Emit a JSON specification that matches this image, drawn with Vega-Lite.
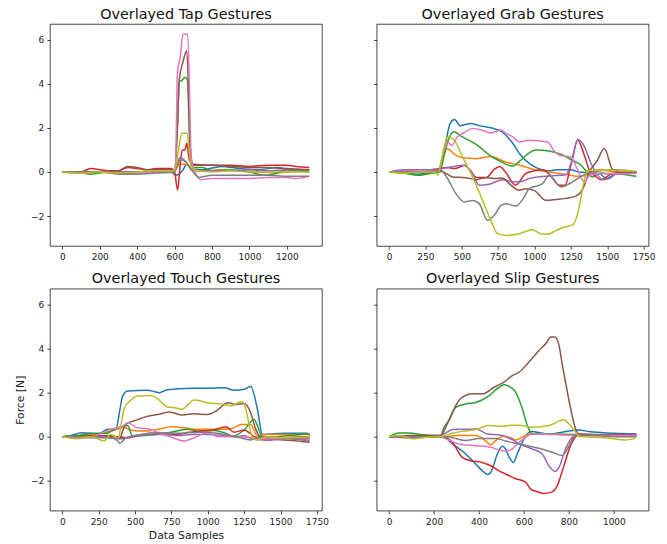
{
"$schema": "https://vega.github.io/schema/vega-lite/v6.json",
"padding": {"left": 14, "top": 6, "right": 5, "bottom": 2},
"columns": 2,
"spacing": {"row": 42.7, "column": 54.7},
"bounds": "flush",
"resolve": {"scale": {"x": "independent", "y": "independent"}},
"config": {
 "font": "DejaVu Sans",
 "view": {"stroke": "#000", "strokeWidth": 0.72},
 "axis": {"domain": false, "grid": false, "tickSize": 3.15, "tickWidth": 0.72, "tickColor": "#000", "labelFontSize": 9, "labelColor": "#222", "labelPadding": 3.15, "labelFlush": false, "labelFont": "DejaVu Sans", "format": "d", "titleFont": "DejaVu Sans", "titleFontSize": 10.8, "titleFontWeight": "normal", "titleColor": "#222"},
 "axisY": {"titlePadding": 5},
 "axisX": {"titlePadding": 3},
 "title": {"fontSize": 14.4, "fontWeight": "normal", "font": "DejaVu Sans", "offset": 2, "color": "#111"}
},
"datasets": {"d": [
{"p":"tap","s":"C0","x":0,"y":0},{"p":"tap","s":"C0","x":100,"y":0},{"p":"tap","s":"C0","x":200,"y":0},{"p":"tap","s":"C0","x":300,"y":0},{"p":"tap","s":"C0","x":400,"y":0},{"p":"tap","s":"C0","x":500,"y":0},{"p":"tap","s":"C0","x":580,"y":0},{"p":"tap","s":"C0","x":605,"y":-0.15},{"p":"tap","s":"C0","x":625,"y":-0.1},{"p":"tap","s":"C0","x":645,"y":0.1},{"p":"tap","s":"C0","x":665,"y":0.35},{"p":"tap","s":"C0","x":690,"y":0.15},{"p":"tap","s":"C0","x":750,"y":0.1},{"p":"tap","s":"C0","x":850,"y":0.25},{"p":"tap","s":"C0","x":950,"y":0.15},{"p":"tap","s":"C0","x":1050,"y":0.1},{"p":"tap","s":"C0","x":1150,"y":0.2},{"p":"tap","s":"C0","x":1250,"y":0.05},{"p":"tap","s":"C0","x":1320,"y":0.05},
{"p":"tap","s":"C1","x":0,"y":0},{"p":"tap","s":"C1","x":100,"y":0},{"p":"tap","s":"C1","x":200,"y":0},{"p":"tap","s":"C1","x":300,"y":0},{"p":"tap","s":"C1","x":400,"y":0},{"p":"tap","s":"C1","x":500,"y":0},{"p":"tap","s":"C1","x":600,"y":0.05},{"p":"tap","s":"C1","x":620,"y":0.3},{"p":"tap","s":"C1","x":630,"y":0.35},{"p":"tap","s":"C1","x":670,"y":0.35},{"p":"tap","s":"C1","x":690,"y":0.1},{"p":"tap","s":"C1","x":750,"y":0.05},{"p":"tap","s":"C1","x":850,"y":0.1},{"p":"tap","s":"C1","x":950,"y":0.05},{"p":"tap","s":"C1","x":1050,"y":0},{"p":"tap","s":"C1","x":1150,"y":-0.05},{"p":"tap","s":"C1","x":1250,"y":0.05},{"p":"tap","s":"C1","x":1320,"y":0.05},
{"p":"tap","s":"C2","x":0,"y":0},{"p":"tap","s":"C2","x":50,"y":0},{"p":"tap","s":"C2","x":150,"y":-0.1},{"p":"tap","s":"C2","x":250,"y":0},{"p":"tap","s":"C2","x":350,"y":-0.05},{"p":"tap","s":"C2","x":450,"y":0},{"p":"tap","s":"C2","x":550,"y":0},{"p":"tap","s":"C2","x":600,"y":0},{"p":"tap","s":"C2","x":615,"y":2},{"p":"tap","s":"C2","x":625,"y":4.1},{"p":"tap","s":"C2","x":640,"y":4.15},{"p":"tap","s":"C2","x":655,"y":4.3},{"p":"tap","s":"C2","x":668,"y":4.2},{"p":"tap","s":"C2","x":685,"y":0.5},{"p":"tap","s":"C2","x":700,"y":0.2},{"p":"tap","s":"C2","x":750,"y":0.2},{"p":"tap","s":"C2","x":800,"y":0.05},{"p":"tap","s":"C2","x":900,"y":0.1},{"p":"tap","s":"C2","x":1000,"y":0},{"p":"tap","s":"C2","x":1080,"y":-0.15},{"p":"tap","s":"C2","x":1150,"y":-0.05},{"p":"tap","s":"C2","x":1200,"y":0.1},{"p":"tap","s":"C2","x":1320,"y":0},
{"p":"tap","s":"C3","x":0,"y":0},{"p":"tap","s":"C3","x":100,"y":0},{"p":"tap","s":"C3","x":150,"y":0.15},{"p":"tap","s":"C3","x":250,"y":0.05},{"p":"tap","s":"C3","x":300,"y":0.05},{"p":"tap","s":"C3","x":350,"y":0.2},{"p":"tap","s":"C3","x":400,"y":0.15},{"p":"tap","s":"C3","x":450,"y":0.1},{"p":"tap","s":"C3","x":500,"y":0.15},{"p":"tap","s":"C3","x":580,"y":0.15},{"p":"tap","s":"C3","x":600,"y":0},{"p":"tap","s":"C3","x":616,"y":-0.83},{"p":"tap","s":"C3","x":630,"y":0.3},{"p":"tap","s":"C3","x":640,"y":1.0},{"p":"tap","s":"C3","x":655,"y":1.0},{"p":"tap","s":"C3","x":665,"y":1.3},{"p":"tap","s":"C3","x":680,"y":0.5},{"p":"tap","s":"C3","x":700,"y":0.35},{"p":"tap","s":"C3","x":800,"y":0.3},{"p":"tap","s":"C3","x":900,"y":0.3},{"p":"tap","s":"C3","x":1000,"y":0.25},{"p":"tap","s":"C3","x":1100,"y":0.3},{"p":"tap","s":"C3","x":1200,"y":0.3},{"p":"tap","s":"C3","x":1250,"y":0.25},{"p":"tap","s":"C3","x":1320,"y":0.2},
{"p":"tap","s":"C4","x":0,"y":0},{"p":"tap","s":"C4","x":100,"y":-0.05},{"p":"tap","s":"C4","x":200,"y":0},{"p":"tap","s":"C4","x":300,"y":0},{"p":"tap","s":"C4","x":400,"y":0},{"p":"tap","s":"C4","x":500,"y":0},{"p":"tap","s":"C4","x":600,"y":0},{"p":"tap","s":"C4","x":615,"y":0.4},{"p":"tap","s":"C4","x":630,"y":0.65},{"p":"tap","s":"C4","x":650,"y":0.55},{"p":"tap","s":"C4","x":670,"y":0.35},{"p":"tap","s":"C4","x":690,"y":0.1},{"p":"tap","s":"C4","x":750,"y":0.05},{"p":"tap","s":"C4","x":900,"y":0.05},{"p":"tap","s":"C4","x":1000,"y":0.1},{"p":"tap","s":"C4","x":1100,"y":0.05},{"p":"tap","s":"C4","x":1200,"y":0.1},{"p":"tap","s":"C4","x":1320,"y":0.1},
{"p":"tap","s":"C5","x":0,"y":0},{"p":"tap","s":"C5","x":100,"y":0},{"p":"tap","s":"C5","x":200,"y":0},{"p":"tap","s":"C5","x":300,"y":0.05},{"p":"tap","s":"C5","x":350,"y":0.25},{"p":"tap","s":"C5","x":400,"y":0.2},{"p":"tap","s":"C5","x":450,"y":0.1},{"p":"tap","s":"C5","x":550,"y":0.1},{"p":"tap","s":"C5","x":600,"y":0.1},{"p":"tap","s":"C5","x":615,"y":2},{"p":"tap","s":"C5","x":625,"y":4.2},{"p":"tap","s":"C5","x":645,"y":5},{"p":"tap","s":"C5","x":665,"y":5.5},{"p":"tap","s":"C5","x":685,"y":1},{"p":"tap","s":"C5","x":700,"y":0.3},{"p":"tap","s":"C5","x":800,"y":0.3},{"p":"tap","s":"C5","x":900,"y":0.25},{"p":"tap","s":"C5","x":1000,"y":0.2},{"p":"tap","s":"C5","x":1100,"y":0.2},{"p":"tap","s":"C5","x":1200,"y":0.15},{"p":"tap","s":"C5","x":1320,"y":0.1},
{"p":"tap","s":"C6","x":0,"y":0},{"p":"tap","s":"C6","x":100,"y":-0.05},{"p":"tap","s":"C6","x":200,"y":0},{"p":"tap","s":"C6","x":300,"y":-0.05},{"p":"tap","s":"C6","x":400,"y":-0.05},{"p":"tap","s":"C6","x":500,"y":0},{"p":"tap","s":"C6","x":590,"y":0.05},{"p":"tap","s":"C6","x":605,"y":0.3},{"p":"tap","s":"C6","x":615,"y":4.5},{"p":"tap","s":"C6","x":630,"y":5.2},{"p":"tap","s":"C6","x":645,"y":6.25},{"p":"tap","s":"C6","x":670,"y":6.25},{"p":"tap","s":"C6","x":690,"y":0.5},{"p":"tap","s":"C6","x":710,"y":0},{"p":"tap","s":"C6","x":740,"y":-0.35},{"p":"tap","s":"C6","x":800,"y":-0.3},{"p":"tap","s":"C6","x":900,"y":-0.3},{"p":"tap","s":"C6","x":1000,"y":-0.3},{"p":"tap","s":"C6","x":1100,"y":-0.25},{"p":"tap","s":"C6","x":1200,"y":-0.25},{"p":"tap","s":"C6","x":1250,"y":-0.3},{"p":"tap","s":"C6","x":1320,"y":-0.2},
{"p":"tap","s":"C7","x":0,"y":0},{"p":"tap","s":"C7","x":100,"y":0},{"p":"tap","s":"C7","x":200,"y":0},{"p":"tap","s":"C7","x":300,"y":-0.1},{"p":"tap","s":"C7","x":400,"y":-0.1},{"p":"tap","s":"C7","x":500,"y":-0.05},{"p":"tap","s":"C7","x":600,"y":0},{"p":"tap","s":"C7","x":615,"y":0.3},{"p":"tap","s":"C7","x":630,"y":0.55},{"p":"tap","s":"C7","x":660,"y":0.45},{"p":"tap","s":"C7","x":690,"y":0.1},{"p":"tap","s":"C7","x":730,"y":-0.25},{"p":"tap","s":"C7","x":800,"y":-0.15},{"p":"tap","s":"C7","x":900,"y":-0.15},{"p":"tap","s":"C7","x":1000,"y":-0.15},{"p":"tap","s":"C7","x":1100,"y":-0.15},{"p":"tap","s":"C7","x":1200,"y":-0.2},{"p":"tap","s":"C7","x":1320,"y":-0.2},
{"p":"tap","s":"C8","x":0,"y":0},{"p":"tap","s":"C8","x":100,"y":-0.05},{"p":"tap","s":"C8","x":200,"y":0},{"p":"tap","s":"C8","x":300,"y":-0.05},{"p":"tap","s":"C8","x":400,"y":0},{"p":"tap","s":"C8","x":500,"y":0.05},{"p":"tap","s":"C8","x":600,"y":0.05},{"p":"tap","s":"C8","x":612,"y":0.5},{"p":"tap","s":"C8","x":625,"y":1.2},{"p":"tap","s":"C8","x":640,"y":1.75},{"p":"tap","s":"C8","x":665,"y":1.75},{"p":"tap","s":"C8","x":690,"y":0.2},{"p":"tap","s":"C8","x":720,"y":0.05},{"p":"tap","s":"C8","x":800,"y":0},{"p":"tap","s":"C8","x":900,"y":0.05},{"p":"tap","s":"C8","x":1000,"y":0},{"p":"tap","s":"C8","x":1100,"y":0},{"p":"tap","s":"C8","x":1200,"y":0},{"p":"tap","s":"C8","x":1320,"y":0},

{"p":"grab","s":"C0","x":0,"y":0},{"p":"grab","s":"C0","x":100,"y":-0.05},{"p":"grab","s":"C0","x":200,"y":-0.1},{"p":"grab","s":"C0","x":300,"y":0},{"p":"grab","s":"C0","x":340,"y":0.05},{"p":"grab","s":"C0","x":380,"y":1.0},{"p":"grab","s":"C0","x":420,"y":2.2},{"p":"grab","s":"C0","x":450,"y":2.38},{"p":"grab","s":"C0","x":490,"y":2.1},{"p":"grab","s":"C0","x":560,"y":2.2},{"p":"grab","s":"C0","x":620,"y":2.1},{"p":"grab","s":"C0","x":700,"y":2.0},{"p":"grab","s":"C0","x":780,"y":1.8},{"p":"grab","s":"C0","x":850,"y":1.3},{"p":"grab","s":"C0","x":900,"y":0.8},{"p":"grab","s":"C0","x":970,"y":0.35},{"p":"grab","s":"C0","x":1050,"y":0.1},{"p":"grab","s":"C0","x":1100,"y":0.05},{"p":"grab","s":"C0","x":1150,"y":0.1},{"p":"grab","s":"C0","x":1250,"y":0.1},{"p":"grab","s":"C0","x":1300,"y":0},{"p":"grab","s":"C0","x":1400,"y":-0.05},{"p":"grab","s":"C0","x":1450,"y":-0.1},{"p":"grab","s":"C0","x":1495,"y":-0.3},{"p":"grab","s":"C0","x":1550,"y":-0.1},{"p":"grab","s":"C0","x":1600,"y":0},{"p":"grab","s":"C0","x":1700,"y":0},
{"p":"grab","s":"C1","x":0,"y":0},{"p":"grab","s":"C1","x":200,"y":0},{"p":"grab","s":"C1","x":330,"y":0},{"p":"grab","s":"C1","x":360,"y":0.4},{"p":"grab","s":"C1","x":400,"y":1.05},{"p":"grab","s":"C1","x":450,"y":0.8},{"p":"grab","s":"C1","x":500,"y":0.65},{"p":"grab","s":"C1","x":600,"y":0.6},{"p":"grab","s":"C1","x":700,"y":0.7},{"p":"grab","s":"C1","x":800,"y":0.45},{"p":"grab","s":"C1","x":900,"y":0.3},{"p":"grab","s":"C1","x":1000,"y":0.1},{"p":"grab","s":"C1","x":1100,"y":0},{"p":"grab","s":"C1","x":1200,"y":-0.1},{"p":"grab","s":"C1","x":1300,"y":-0.2},{"p":"grab","s":"C1","x":1350,"y":-0.15},{"p":"grab","s":"C1","x":1400,"y":0.05},{"p":"grab","s":"C1","x":1450,"y":0.1},{"p":"grab","s":"C1","x":1550,"y":0},{"p":"grab","s":"C1","x":1700,"y":0},
{"p":"grab","s":"C2","x":0,"y":0},{"p":"grab","s":"C2","x":100,"y":-0.05},{"p":"grab","s":"C2","x":200,"y":-0.15},{"p":"grab","s":"C2","x":300,"y":-0.05},{"p":"grab","s":"C2","x":350,"y":0},{"p":"grab","s":"C2","x":380,"y":0.8},{"p":"grab","s":"C2","x":410,"y":1.5},{"p":"grab","s":"C2","x":445,"y":1.82},{"p":"grab","s":"C2","x":500,"y":1.6},{"p":"grab","s":"C2","x":570,"y":1.36},{"p":"grab","s":"C2","x":620,"y":1.15},{"p":"grab","s":"C2","x":690,"y":0.76},{"p":"grab","s":"C2","x":760,"y":0.5},{"p":"grab","s":"C2","x":850,"y":0.26},{"p":"grab","s":"C2","x":900,"y":0.5},{"p":"grab","s":"C2","x":950,"y":0.8},{"p":"grab","s":"C2","x":1010,"y":0.99},{"p":"grab","s":"C2","x":1100,"y":0.95},{"p":"grab","s":"C2","x":1180,"y":0.8},{"p":"grab","s":"C2","x":1260,"y":0.53},{"p":"grab","s":"C2","x":1320,"y":0.3},{"p":"grab","s":"C2","x":1360,"y":0},{"p":"grab","s":"C2","x":1400,"y":-0.23},{"p":"grab","s":"C2","x":1450,"y":-0.05},{"p":"grab","s":"C2","x":1500,"y":-0.07},{"p":"grab","s":"C2","x":1600,"y":-0.1},{"p":"grab","s":"C2","x":1700,"y":-0.2},
{"p":"grab","s":"C3","x":0,"y":0},{"p":"grab","s":"C3","x":200,"y":0.05},{"p":"grab","s":"C3","x":340,"y":0.15},{"p":"grab","s":"C3","x":400,"y":0.2},{"p":"grab","s":"C3","x":450,"y":0.15},{"p":"grab","s":"C3","x":520,"y":0.3},{"p":"grab","s":"C3","x":560,"y":0.05},{"p":"grab","s":"C3","x":600,"y":-0.25},{"p":"grab","s":"C3","x":670,"y":-0.25},{"p":"grab","s":"C3","x":720,"y":0.1},{"p":"grab","s":"C3","x":760,"y":0.25},{"p":"grab","s":"C3","x":800,"y":0},{"p":"grab","s":"C3","x":870,"y":-0.6},{"p":"grab","s":"C3","x":940,"y":-0.07},{"p":"grab","s":"C3","x":1000,"y":0.05},{"p":"grab","s":"C3","x":1055,"y":0.1},{"p":"grab","s":"C3","x":1100,"y":-0.1},{"p":"grab","s":"C3","x":1170,"y":-0.6},{"p":"grab","s":"C3","x":1210,"y":-0.6},{"p":"grab","s":"C3","x":1250,"y":0.3},{"p":"grab","s":"C3","x":1297,"y":1.45},{"p":"grab","s":"C3","x":1340,"y":0.8},{"p":"grab","s":"C3","x":1377,"y":0.08},{"p":"grab","s":"C3","x":1420,"y":-0.2},{"p":"grab","s":"C3","x":1457,"y":-0.35},{"p":"grab","s":"C3","x":1537,"y":-0.07},{"p":"grab","s":"C3","x":1600,"y":-0.05},{"p":"grab","s":"C3","x":1700,"y":-0.05},
{"p":"grab","s":"C4","x":0,"y":0},{"p":"grab","s":"C4","x":100,"y":0.1},{"p":"grab","s":"C4","x":200,"y":0.1},{"p":"grab","s":"C4","x":340,"y":0.1},{"p":"grab","s":"C4","x":367,"y":0.15},{"p":"grab","s":"C4","x":450,"y":0.25},{"p":"grab","s":"C4","x":516,"y":0.3},{"p":"grab","s":"C4","x":574,"y":-0.08},{"p":"grab","s":"C4","x":620,"y":-0.6},{"p":"grab","s":"C4","x":688,"y":-0.56},{"p":"grab","s":"C4","x":780,"y":-0.35},{"p":"grab","s":"C4","x":860,"y":-0.45},{"p":"grab","s":"C4","x":900,"y":-0.45},{"p":"grab","s":"C4","x":963,"y":-0.3},{"p":"grab","s":"C4","x":1101,"y":-0.18},{"p":"grab","s":"C4","x":1216,"y":-0.13},{"p":"grab","s":"C4","x":1260,"y":0.6},{"p":"grab","s":"C4","x":1297,"y":1.47},{"p":"grab","s":"C4","x":1330,"y":1.3},{"p":"grab","s":"C4","x":1400,"y":0.23},{"p":"grab","s":"C4","x":1469,"y":-0.35},{"p":"grab","s":"C4","x":1514,"y":-0.3},{"p":"grab","s":"C4","x":1560,"y":-0.1},{"p":"grab","s":"C4","x":1700,"y":-0.05},
{"p":"grab","s":"C5","x":0,"y":0},{"p":"grab","s":"C5","x":200,"y":0.05},{"p":"grab","s":"C5","x":340,"y":0.05},{"p":"grab","s":"C5","x":400,"y":-0.1},{"p":"grab","s":"C5","x":436,"y":-0.23},{"p":"grab","s":"C5","x":528,"y":-0.26},{"p":"grab","s":"C5","x":597,"y":-0.35},{"p":"grab","s":"C5","x":666,"y":-0.26},{"p":"grab","s":"C5","x":720,"y":-0.3},{"p":"grab","s":"C5","x":780,"y":-0.27},{"p":"grab","s":"C5","x":826,"y":-0.53},{"p":"grab","s":"C5","x":895,"y":-0.83},{"p":"grab","s":"C5","x":941,"y":-0.76},{"p":"grab","s":"C5","x":1000,"y":-0.85},{"p":"grab","s":"C5","x":1078,"y":-1.29},{"p":"grab","s":"C5","x":1150,"y":-1.25},{"p":"grab","s":"C5","x":1216,"y":-1.2},{"p":"grab","s":"C5","x":1285,"y":-1.1},{"p":"grab","s":"C5","x":1330,"y":-0.8},{"p":"grab","s":"C5","x":1377,"y":0},{"p":"grab","s":"C5","x":1430,"y":0.5},{"p":"grab","s":"C5","x":1480,"y":1.06},{"p":"grab","s":"C5","x":1537,"y":0.1},{"p":"grab","s":"C5","x":1600,"y":-0.05},{"p":"grab","s":"C5","x":1700,"y":0},
{"p":"grab","s":"C6","x":0,"y":0},{"p":"grab","s":"C6","x":200,"y":0.05},{"p":"grab","s":"C6","x":340,"y":0.05},{"p":"grab","s":"C6","x":370,"y":0.8},{"p":"grab","s":"C6","x":402,"y":1.35},{"p":"grab","s":"C6","x":430,"y":1.2},{"p":"grab","s":"C6","x":471,"y":1.6},{"p":"grab","s":"C6","x":520,"y":1.8},{"p":"grab","s":"C6","x":574,"y":1.97},{"p":"grab","s":"C6","x":642,"y":1.89},{"p":"grab","s":"C6","x":700,"y":1.77},{"p":"grab","s":"C6","x":769,"y":1.9},{"p":"grab","s":"C6","x":803,"y":1.75},{"p":"grab","s":"C6","x":849,"y":1.6},{"p":"grab","s":"C6","x":895,"y":1.36},{"p":"grab","s":"C6","x":963,"y":1.44},{"p":"grab","s":"C6","x":1090,"y":1.36},{"p":"grab","s":"C6","x":1130,"y":1.0},{"p":"grab","s":"C6","x":1170,"y":0.76},{"p":"grab","s":"C6","x":1250,"y":0.68},{"p":"grab","s":"C6","x":1297,"y":0.08},{"p":"grab","s":"C6","x":1342,"y":-0.45},{"p":"grab","s":"C6","x":1388,"y":-0.1},{"p":"grab","s":"C6","x":1491,"y":-0.08},{"p":"grab","s":"C6","x":1700,"y":-0.07},
{"p":"grab","s":"C7","x":0,"y":0},{"p":"grab","s":"C7","x":200,"y":0},{"p":"grab","s":"C7","x":340,"y":0.05},{"p":"grab","s":"C7","x":356,"y":0.08},{"p":"grab","s":"C7","x":402,"y":-0.3},{"p":"grab","s":"C7","x":459,"y":-0.98},{"p":"grab","s":"C7","x":516,"y":-1.36},{"p":"grab","s":"C7","x":574,"y":-1.3},{"p":"grab","s":"C7","x":620,"y":-1.44},{"p":"grab","s":"C7","x":677,"y":-2.2},{"p":"grab","s":"C7","x":723,"y":-1.97},{"p":"grab","s":"C7","x":769,"y":-1.52},{"p":"grab","s":"C7","x":803,"y":-1.44},{"p":"grab","s":"C7","x":871,"y":-1.55},{"p":"grab","s":"C7","x":929,"y":-1.14},{"p":"grab","s":"C7","x":963,"y":-0.76},{"p":"grab","s":"C7","x":1055,"y":-0.53},{"p":"grab","s":"C7","x":1101,"y":-0.15},{"p":"grab","s":"C7","x":1181,"y":-0.68},{"p":"grab","s":"C7","x":1262,"y":-0.45},{"p":"grab","s":"C7","x":1354,"y":-0.08},{"p":"grab","s":"C7","x":1450,"y":0.05},{"p":"grab","s":"C7","x":1560,"y":0.1},{"p":"grab","s":"C7","x":1700,"y":0},
{"p":"grab","s":"C8","x":0,"y":0},{"p":"grab","s":"C8","x":100,"y":-0.05},{"p":"grab","s":"C8","x":200,"y":0},{"p":"grab","s":"C8","x":320,"y":0},{"p":"grab","s":"C8","x":333,"y":-0.15},{"p":"grab","s":"C8","x":379,"y":1.14},{"p":"grab","s":"C8","x":402,"y":1.59},{"p":"grab","s":"C8","x":448,"y":1.44},{"p":"grab","s":"C8","x":505,"y":0.68},{"p":"grab","s":"C8","x":574,"y":-0.23},{"p":"grab","s":"C8","x":643,"y":-1.29},{"p":"grab","s":"C8","x":700,"y":-2.2},{"p":"grab","s":"C8","x":746,"y":-2.8},{"p":"grab","s":"C8","x":803,"y":-2.88},{"p":"grab","s":"C8","x":895,"y":-2.8},{"p":"grab","s":"C8","x":987,"y":-2.62},{"p":"grab","s":"C8","x":1040,"y":-2.8},{"p":"grab","s":"C8","x":1090,"y":-2.83},{"p":"grab","s":"C8","x":1150,"y":-2.65},{"p":"grab","s":"C8","x":1204,"y":-2.5},{"p":"grab","s":"C8","x":1262,"y":-2.4},{"p":"grab","s":"C8","x":1297,"y":-1.89},{"p":"grab","s":"C8","x":1342,"y":-0.38},{"p":"grab","s":"C8","x":1365,"y":0.08},{"p":"grab","s":"C8","x":1491,"y":0.08},{"p":"grab","s":"C8","x":1700,"y":0.03},

{"p":"touch","s":"C0","x":0,"y":0},{"p":"touch","s":"C0","x":60,"y":0.05},{"p":"touch","s":"C0","x":128,"y":0.18},{"p":"touch","s":"C0","x":200,"y":0.15},{"p":"touch","s":"C0","x":242,"y":0.1},{"p":"touch","s":"C0","x":311,"y":0.33},{"p":"touch","s":"C0","x":369,"y":0.35},{"p":"touch","s":"C0","x":395,"y":1.2},{"p":"touch","s":"C0","x":414,"y":1.84},{"p":"touch","s":"C0","x":449,"y":2.07},{"p":"touch","s":"C0","x":586,"y":2.1},{"p":"touch","s":"C0","x":630,"y":2.05},{"p":"touch","s":"C0","x":666,"y":1.99},{"p":"touch","s":"C0","x":723,"y":2.13},{"p":"touch","s":"C0","x":883,"y":2.2},{"p":"touch","s":"C0","x":1000,"y":2.2},{"p":"touch","s":"C0","x":1112,"y":2.22},{"p":"touch","s":"C0","x":1181,"y":2.1},{"p":"touch","s":"C0","x":1250,"y":2.15},{"p":"touch","s":"C0","x":1295,"y":2.27},{"p":"touch","s":"C0","x":1341,"y":1.24},{"p":"touch","s":"C0","x":1375,"y":0.1},{"p":"touch","s":"C0","x":1524,"y":0.15},{"p":"touch","s":"C0","x":1684,"y":0.15},{"p":"touch","s":"C0","x":1700,"y":0.05},
{"p":"touch","s":"C1","x":0,"y":0},{"p":"touch","s":"C1","x":100,"y":0.05},{"p":"touch","s":"C1","x":200,"y":0.1},{"p":"touch","s":"C1","x":300,"y":0.2},{"p":"touch","s":"C1","x":360,"y":0.3},{"p":"touch","s":"C1","x":426,"y":0.4},{"p":"touch","s":"C1","x":470,"y":0.3},{"p":"touch","s":"C1","x":517,"y":0.25},{"p":"touch","s":"C1","x":580,"y":0.25},{"p":"touch","s":"C1","x":655,"y":0.33},{"p":"touch","s":"C1","x":746,"y":0.45},{"p":"touch","s":"C1","x":837,"y":0.4},{"p":"touch","s":"C1","x":929,"y":0.33},{"p":"touch","s":"C1","x":1066,"y":0.33},{"p":"touch","s":"C1","x":1150,"y":0.35},{"p":"touch","s":"C1","x":1204,"y":0.48},{"p":"touch","s":"C1","x":1227,"y":0.55},{"p":"touch","s":"C1","x":1295,"y":0.55},{"p":"touch","s":"C1","x":1341,"y":0.02},{"p":"touch","s":"C1","x":1400,"y":0.1},{"p":"touch","s":"C1","x":1524,"y":0.1},{"p":"touch","s":"C1","x":1700,"y":0.1},
{"p":"touch","s":"C2","x":0,"y":0},{"p":"touch","s":"C2","x":100,"y":0.05},{"p":"touch","s":"C2","x":220,"y":0.15},{"p":"touch","s":"C2","x":300,"y":0.15},{"p":"touch","s":"C2","x":381,"y":0.4},{"p":"touch","s":"C2","x":449,"y":0.51},{"p":"touch","s":"C2","x":483,"y":0.02},{"p":"touch","s":"C2","x":609,"y":0.07},{"p":"touch","s":"C2","x":746,"y":0.2},{"p":"touch","s":"C2","x":860,"y":0.33},{"p":"touch","s":"C2","x":952,"y":0.25},{"p":"touch","s":"C2","x":1043,"y":0.28},{"p":"touch","s":"C2","x":1112,"y":0.18},{"p":"touch","s":"C2","x":1170,"y":0.02},{"p":"touch","s":"C2","x":1250,"y":0.3},{"p":"touch","s":"C2","x":1318,"y":0.78},{"p":"touch","s":"C2","x":1352,"y":0.3},{"p":"touch","s":"C2","x":1375,"y":-0.05},{"p":"touch","s":"C2","x":1524,"y":0.03},{"p":"touch","s":"C2","x":1700,"y":0.13},
{"p":"touch","s":"C3","x":0,"y":0},{"p":"touch","s":"C3","x":100,"y":-0.05},{"p":"touch","s":"C3","x":200,"y":0},{"p":"touch","s":"C3","x":300,"y":0},{"p":"touch","s":"C3","x":380,"y":0},{"p":"touch","s":"C3","x":450,"y":-0.05},{"p":"touch","s":"C3","x":520,"y":0.05},{"p":"touch","s":"C3","x":609,"y":0.15},{"p":"touch","s":"C3","x":700,"y":0.1},{"p":"touch","s":"C3","x":792,"y":0.1},{"p":"touch","s":"C3","x":870,"y":0.2},{"p":"touch","s":"C3","x":952,"y":0.25},{"p":"touch","s":"C3","x":1040,"y":0.3},{"p":"touch","s":"C3","x":1089,"y":0.4},{"p":"touch","s":"C3","x":1124,"y":0.45},{"p":"touch","s":"C3","x":1181,"y":0.2},{"p":"touch","s":"C3","x":1250,"y":0.3},{"p":"touch","s":"C3","x":1318,"y":0},{"p":"touch","s":"C3","x":1410,"y":-0.15},{"p":"touch","s":"C3","x":1524,"y":-0.05},{"p":"touch","s":"C3","x":1684,"y":0},{"p":"touch","s":"C3","x":1700,"y":-0.05},
{"p":"touch","s":"C4","x":0,"y":0},{"p":"touch","s":"C4","x":100,"y":-0.05},{"p":"touch","s":"C4","x":300,"y":-0.05},{"p":"touch","s":"C4","x":400,"y":-0.1},{"p":"touch","s":"C4","x":500,"y":0},{"p":"touch","s":"C4","x":600,"y":0.1},{"p":"touch","s":"C4","x":700,"y":0.1},{"p":"touch","s":"C4","x":800,"y":0.05},{"p":"touch","s":"C4","x":900,"y":0.1},{"p":"touch","s":"C4","x":1000,"y":0.1},{"p":"touch","s":"C4","x":1100,"y":0.05},{"p":"touch","s":"C4","x":1200,"y":0},{"p":"touch","s":"C4","x":1250,"y":0.05},{"p":"touch","s":"C4","x":1300,"y":-0.1},{"p":"touch","s":"C4","x":1400,"y":-0.15},{"p":"touch","s":"C4","x":1550,"y":-0.1},{"p":"touch","s":"C4","x":1700,"y":-0.1},
{"p":"touch","s":"C5","x":0,"y":0},{"p":"touch","s":"C5","x":100,"y":0},{"p":"touch","s":"C5","x":200,"y":0.05},{"p":"touch","s":"C5","x":300,"y":0.05},{"p":"touch","s":"C5","x":370,"y":0},{"p":"touch","s":"C5","x":395,"y":-0.1},{"p":"touch","s":"C5","x":414,"y":0.25},{"p":"touch","s":"C5","x":437,"y":0.56},{"p":"touch","s":"C5","x":517,"y":0.77},{"p":"touch","s":"C5","x":586,"y":0.92},{"p":"touch","s":"C5","x":655,"y":1.0},{"p":"touch","s":"C5","x":735,"y":1.12},{"p":"touch","s":"C5","x":826,"y":0.98},{"p":"touch","s":"C5","x":906,"y":1.04},{"p":"touch","s":"C5","x":998,"y":1.0},{"p":"touch","s":"C5","x":1066,"y":1.2},{"p":"touch","s":"C5","x":1135,"y":1.54},{"p":"touch","s":"C5","x":1192,"y":1.46},{"p":"touch","s":"C5","x":1250,"y":1.5},{"p":"touch","s":"C5","x":1295,"y":1.08},{"p":"touch","s":"C5","x":1330,"y":0.33},{"p":"touch","s":"C5","x":1364,"y":-0.05},{"p":"touch","s":"C5","x":1524,"y":-0.15},{"p":"touch","s":"C5","x":1661,"y":-0.23},{"p":"touch","s":"C5","x":1700,"y":-0.26},
{"p":"touch","s":"C6","x":0,"y":0},{"p":"touch","s":"C6","x":100,"y":-0.05},{"p":"touch","s":"C6","x":200,"y":0},{"p":"touch","s":"C6","x":250,"y":0.1},{"p":"touch","s":"C6","x":330,"y":0.33},{"p":"touch","s":"C6","x":414,"y":0.48},{"p":"touch","s":"C6","x":449,"y":0.63},{"p":"touch","s":"C6","x":517,"y":0.4},{"p":"touch","s":"C6","x":586,"y":0.36},{"p":"touch","s":"C6","x":655,"y":0.2},{"p":"touch","s":"C6","x":746,"y":-0.02},{"p":"touch","s":"C6","x":837,"y":-0.2},{"p":"touch","s":"C6","x":906,"y":-0.05},{"p":"touch","s":"C6","x":998,"y":0.18},{"p":"touch","s":"C6","x":1066,"y":0},{"p":"touch","s":"C6","x":1200,"y":0},{"p":"touch","s":"C6","x":1300,"y":-0.05},{"p":"touch","s":"C6","x":1400,"y":-0.1},{"p":"touch","s":"C6","x":1524,"y":-0.1},{"p":"touch","s":"C6","x":1700,"y":-0.15},
{"p":"touch","s":"C7","x":0,"y":0},{"p":"touch","s":"C7","x":100,"y":0},{"p":"touch","s":"C7","x":250,"y":0},{"p":"touch","s":"C7","x":340,"y":-0.05},{"p":"touch","s":"C7","x":381,"y":-0.2},{"p":"touch","s":"C7","x":395,"y":-0.3},{"p":"touch","s":"C7","x":437,"y":-0.05},{"p":"touch","s":"C7","x":540,"y":0.1},{"p":"touch","s":"C7","x":655,"y":0.18},{"p":"touch","s":"C7","x":792,"y":0.15},{"p":"touch","s":"C7","x":952,"y":0.2},{"p":"touch","s":"C7","x":1066,"y":0.15},{"p":"touch","s":"C7","x":1204,"y":-0.02},{"p":"touch","s":"C7","x":1295,"y":-0.15},{"p":"touch","s":"C7","x":1364,"y":0},{"p":"touch","s":"C7","x":1524,"y":-0.05},{"p":"touch","s":"C7","x":1700,"y":-0.2},
{"p":"touch","s":"C8","x":0,"y":0},{"p":"touch","s":"C8","x":100,"y":-0.1},{"p":"touch","s":"C8","x":200,"y":0},{"p":"touch","s":"C8","x":288,"y":-0.2},{"p":"touch","s":"C8","x":330,"y":0.1},{"p":"touch","s":"C8","x":387,"y":-0.05},{"p":"touch","s":"C8","x":400,"y":0.4},{"p":"touch","s":"C8","x":426,"y":1.3},{"p":"touch","s":"C8","x":470,"y":1.65},{"p":"touch","s":"C8","x":517,"y":1.84},{"p":"touch","s":"C8","x":609,"y":1.87},{"p":"touch","s":"C8","x":655,"y":1.71},{"p":"touch","s":"C8","x":723,"y":1.34},{"p":"touch","s":"C8","x":780,"y":1.3},{"p":"touch","s":"C8","x":826,"y":1.24},{"p":"touch","s":"C8","x":870,"y":1.5},{"p":"touch","s":"C8","x":906,"y":1.66},{"p":"touch","s":"C8","x":998,"y":1.54},{"p":"touch","s":"C8","x":1112,"y":1.46},{"p":"touch","s":"C8","x":1160,"y":1.4},{"p":"touch","s":"C8","x":1227,"y":1.58},{"p":"touch","s":"C8","x":1250,"y":1.5},{"p":"touch","s":"C8","x":1272,"y":0.93},{"p":"touch","s":"C8","x":1307,"y":-0.05},{"p":"touch","s":"C8","x":1341,"y":-0.15},{"p":"touch","s":"C8","x":1410,"y":0},{"p":"touch","s":"C8","x":1524,"y":-0.05},{"p":"touch","s":"C8","x":1700,"y":0},

{"p":"slip","s":"C0","x":0,"y":0},{"p":"slip","s":"C0","x":100,"y":0},{"p":"slip","s":"C0","x":200,"y":0},{"p":"slip","s":"C0","x":240,"y":0},{"p":"slip","s":"C0","x":282,"y":-0.33},{"p":"slip","s":"C0","x":341,"y":-0.79},{"p":"slip","s":"C0","x":385,"y":-1.24},{"p":"slip","s":"C0","x":415,"y":-1.55},{"p":"slip","s":"C0","x":440,"y":-1.72},{"p":"slip","s":"C0","x":452,"y":-1.63},{"p":"slip","s":"C0","x":482,"y":-0.79},{"p":"slip","s":"C0","x":504,"y":-0.44},{"p":"slip","s":"C0","x":518,"y":-0.56},{"p":"slip","s":"C0","x":535,"y":-0.95},{"p":"slip","s":"C0","x":553,"y":-1.17},{"p":"slip","s":"C0","x":570,"y":-0.79},{"p":"slip","s":"C0","x":600,"y":-0.11},{"p":"slip","s":"C0","x":630,"y":0.23},{"p":"slip","s":"C0","x":711,"y":0.12},{"p":"slip","s":"C0","x":785,"y":0.23},{"p":"slip","s":"C0","x":844,"y":0.3},{"p":"slip","s":"C0","x":889,"y":0.23},{"p":"slip","s":"C0","x":1000,"y":0.15},{"p":"slip","s":"C0","x":1100,"y":0.12},
{"p":"slip","s":"C1","x":0,"y":0},{"p":"slip","s":"C1","x":100,"y":0.02},{"p":"slip","s":"C1","x":200,"y":0},{"p":"slip","s":"C1","x":250,"y":0},{"p":"slip","s":"C1","x":300,"y":0.05},{"p":"slip","s":"C1","x":385,"y":0.05},{"p":"slip","s":"C1","x":429,"y":-0.18},{"p":"slip","s":"C1","x":452,"y":-0.38},{"p":"slip","s":"C1","x":474,"y":-0.18},{"p":"slip","s":"C1","x":511,"y":0.02},{"p":"slip","s":"C1","x":540,"y":-0.05},{"p":"slip","s":"C1","x":563,"y":-0.15},{"p":"slip","s":"C1","x":607,"y":0.05},{"p":"slip","s":"C1","x":637,"y":0.12},{"p":"slip","s":"C1","x":750,"y":0.1},{"p":"slip","s":"C1","x":850,"y":0.05},{"p":"slip","s":"C1","x":1000,"y":0.05},{"p":"slip","s":"C1","x":1100,"y":0.05},
{"p":"slip","s":"C2","x":0,"y":0},{"p":"slip","s":"C2","x":44,"y":0.17},{"p":"slip","s":"C2","x":89,"y":0.17},{"p":"slip","s":"C2","x":150,"y":0.08},{"p":"slip","s":"C2","x":200,"y":0.05},{"p":"slip","s":"C2","x":230,"y":0.05},{"p":"slip","s":"C2","x":260,"y":0.6},{"p":"slip","s":"C2","x":296,"y":1.33},{"p":"slip","s":"C2","x":341,"y":1.48},{"p":"slip","s":"C2","x":385,"y":1.55},{"p":"slip","s":"C2","x":444,"y":1.85},{"p":"slip","s":"C2","x":489,"y":2.24},{"p":"slip","s":"C2","x":511,"y":2.35},{"p":"slip","s":"C2","x":530,"y":2.3},{"p":"slip","s":"C2","x":563,"y":2.02},{"p":"slip","s":"C2","x":593,"y":1.26},{"p":"slip","s":"C2","x":615,"y":0.5},{"p":"slip","s":"C2","x":637,"y":0.12},{"p":"slip","s":"C2","x":741,"y":0.12},{"p":"slip","s":"C2","x":850,"y":0.1},{"p":"slip","s":"C2","x":1000,"y":0.1},{"p":"slip","s":"C2","x":1100,"y":0.05},
{"p":"slip","s":"C3","x":0,"y":0},{"p":"slip","s":"C3","x":100,"y":-0.05},{"p":"slip","s":"C3","x":200,"y":-0.02},{"p":"slip","s":"C3","x":240,"y":0},{"p":"slip","s":"C3","x":282,"y":-0.26},{"p":"slip","s":"C3","x":326,"y":-0.94},{"p":"slip","s":"C3","x":363,"y":-1.09},{"p":"slip","s":"C3","x":415,"y":-1.17},{"p":"slip","s":"C3","x":452,"y":-1.32},{"p":"slip","s":"C3","x":489,"y":-1.55},{"p":"slip","s":"C3","x":526,"y":-1.73},{"p":"slip","s":"C3","x":563,"y":-1.91},{"p":"slip","s":"C3","x":607,"y":-2.06},{"p":"slip","s":"C3","x":630,"y":-2.38},{"p":"slip","s":"C3","x":660,"y":-2.5},{"p":"slip","s":"C3","x":689,"y":-2.58},{"p":"slip","s":"C3","x":719,"y":-2.53},{"p":"slip","s":"C3","x":748,"y":-2.23},{"p":"slip","s":"C3","x":778,"y":-1.32},{"p":"slip","s":"C3","x":807,"y":-0.41},{"p":"slip","s":"C3","x":830,"y":0},{"p":"slip","s":"C3","x":850,"y":0.1},{"p":"slip","s":"C3","x":1000,"y":0.08},{"p":"slip","s":"C3","x":1100,"y":0.1},
{"p":"slip","s":"C4","x":0,"y":0},{"p":"slip","s":"C4","x":100,"y":0},{"p":"slip","s":"C4","x":200,"y":0.02},{"p":"slip","s":"C4","x":240,"y":0.1},{"p":"slip","s":"C4","x":282,"y":0.32},{"p":"slip","s":"C4","x":385,"y":0.35},{"p":"slip","s":"C4","x":437,"y":0.12},{"p":"slip","s":"C4","x":489,"y":0.08},{"p":"slip","s":"C4","x":548,"y":-0.14},{"p":"slip","s":"C4","x":578,"y":-0.33},{"p":"slip","s":"C4","x":637,"y":-0.56},{"p":"slip","s":"C4","x":681,"y":-0.79},{"p":"slip","s":"C4","x":711,"y":-1.32},{"p":"slip","s":"C4","x":738,"y":-1.58},{"p":"slip","s":"C4","x":756,"y":-1.39},{"p":"slip","s":"C4","x":785,"y":-0.56},{"p":"slip","s":"C4","x":815,"y":-0.03},{"p":"slip","s":"C4","x":837,"y":0.12},{"p":"slip","s":"C4","x":900,"y":0.1},{"p":"slip","s":"C4","x":1000,"y":0.05},{"p":"slip","s":"C4","x":1100,"y":0.05},
{"p":"slip","s":"C5","x":0,"y":0},{"p":"slip","s":"C5","x":100,"y":0.05},{"p":"slip","s":"C5","x":200,"y":0.05},{"p":"slip","s":"C5","x":230,"y":0.05},{"p":"slip","s":"C5","x":244,"y":0.4},{"p":"slip","s":"C5","x":270,"y":0.8},{"p":"slip","s":"C5","x":296,"y":1.4},{"p":"slip","s":"C5","x":326,"y":1.79},{"p":"slip","s":"C5","x":370,"y":1.94},{"p":"slip","s":"C5","x":415,"y":1.94},{"p":"slip","s":"C5","x":467,"y":2.24},{"p":"slip","s":"C5","x":511,"y":2.47},{"p":"slip","s":"C5","x":548,"y":2.77},{"p":"slip","s":"C5","x":578,"y":2.92},{"p":"slip","s":"C5","x":622,"y":3.38},{"p":"slip","s":"C5","x":667,"y":3.91},{"p":"slip","s":"C5","x":700,"y":4.25},{"p":"slip","s":"C5","x":719,"y":4.52},{"p":"slip","s":"C5","x":738,"y":4.52},{"p":"slip","s":"C5","x":756,"y":4.14},{"p":"slip","s":"C5","x":770,"y":3.3},{"p":"slip","s":"C5","x":785,"y":2.47},{"p":"slip","s":"C5","x":808,"y":1.26},{"p":"slip","s":"C5","x":830,"y":0.35},{"p":"slip","s":"C5","x":844,"y":0.12},{"p":"slip","s":"C5","x":900,"y":0.08},{"p":"slip","s":"C5","x":1000,"y":0.05},{"p":"slip","s":"C5","x":1100,"y":0.05},
{"p":"slip","s":"C6","x":0,"y":0},{"p":"slip","s":"C6","x":100,"y":0},{"p":"slip","s":"C6","x":200,"y":0},{"p":"slip","s":"C6","x":230,"y":-0.02},{"p":"slip","s":"C6","x":252,"y":-0.1},{"p":"slip","s":"C6","x":311,"y":-0.33},{"p":"slip","s":"C6","x":385,"y":-0.41},{"p":"slip","s":"C6","x":452,"y":-0.48},{"p":"slip","s":"C6","x":504,"y":-0.64},{"p":"slip","s":"C6","x":519,"y":-0.64},{"p":"slip","s":"C6","x":548,"y":-0.56},{"p":"slip","s":"C6","x":563,"y":-0.41},{"p":"slip","s":"C6","x":607,"y":-0.03},{"p":"slip","s":"C6","x":637,"y":0.12},{"p":"slip","s":"C6","x":750,"y":0.1},{"p":"slip","s":"C6","x":850,"y":0.05},{"p":"slip","s":"C6","x":1000,"y":0.05},{"p":"slip","s":"C6","x":1100,"y":0.05},
{"p":"slip","s":"C7","x":0,"y":0},{"p":"slip","s":"C7","x":100,"y":0},{"p":"slip","s":"C7","x":200,"y":0},{"p":"slip","s":"C7","x":260,"y":0},{"p":"slip","s":"C7","x":300,"y":-0.1},{"p":"slip","s":"C7","x":341,"y":-0.18},{"p":"slip","s":"C7","x":400,"y":-0.08},{"p":"slip","s":"C7","x":474,"y":-0.08},{"p":"slip","s":"C7","x":519,"y":-0.2},{"p":"slip","s":"C7","x":578,"y":-0.33},{"p":"slip","s":"C7","x":667,"y":-0.53},{"p":"slip","s":"C7","x":726,"y":-0.71},{"p":"slip","s":"C7","x":771,"y":-0.86},{"p":"slip","s":"C7","x":793,"y":-0.56},{"p":"slip","s":"C7","x":830,"y":0.05},{"p":"slip","s":"C7","x":900,"y":0.05},{"p":"slip","s":"C7","x":1000,"y":0},{"p":"slip","s":"C7","x":1100,"y":0},
{"p":"slip","s":"C8","x":0,"y":0},{"p":"slip","s":"C8","x":50,"y":0.05},{"p":"slip","s":"C8","x":100,"y":-0.1},{"p":"slip","s":"C8","x":150,"y":-0.05},{"p":"slip","s":"C8","x":200,"y":0},{"p":"slip","s":"C8","x":237,"y":0.02},{"p":"slip","s":"C8","x":280,"y":0.15},{"p":"slip","s":"C8","x":326,"y":0.24},{"p":"slip","s":"C8","x":385,"y":0.32},{"p":"slip","s":"C8","x":444,"y":0.5},{"p":"slip","s":"C8","x":504,"y":0.47},{"p":"slip","s":"C8","x":548,"y":0.52},{"p":"slip","s":"C8","x":578,"y":0.52},{"p":"slip","s":"C8","x":637,"y":0.42},{"p":"slip","s":"C8","x":711,"y":0.5},{"p":"slip","s":"C8","x":778,"y":0.76},{"p":"slip","s":"C8","x":800,"y":0.58},{"p":"slip","s":"C8","x":830,"y":0.2},{"p":"slip","s":"C8","x":850,"y":0},{"p":"slip","s":"C8","x":963,"y":-0.05},{"p":"slip","s":"C8","x":1052,"y":-0.15},{"p":"slip","s":"C8","x":1096,"y":-0.08}
]},
"concat": [
{
 "width": 272, "height": 222,
 "title": "Overlayed Tap Gestures",
 "data": {"name": "d"},
 "transform": [{"filter": "datum.p == 'tap'"}],
 "mark": {"type": "line", "strokeWidth": 1.5, "interpolate": "monotone"},
 "encoding": {
  "x": {"field": "x", "type": "quantitative", "scale": {"domain": [-66, 1388], "nice": false, "zero": false}, "axis": {"values": [0,200,400,600,800,1000,1200], "title": null}},
  "y": {"field": "y", "type": "quantitative", "scale": {"domain": [-3.36, 6.71], "nice": false, "zero": false}, "axis": {"values": [-2,0,2,4,6], "title": null}},
  "color": {"field": "s", "type": "nominal", "scale": {"domain": ["C0","C1","C2","C3","C4","C5","C6","C7","C8"], "range": ["#1f77b4","#ff7f0e","#2ca02c","#d62728","#9467bd","#8c564b","#e377c2","#7f7f7f","#bcbd22"]}, "legend": null}
 }
},
{
 "width": 272, "height": 222,
 "title": "Overlayed Grab Gestures",
 "data": {"name": "d"},
 "transform": [{"filter": "datum.p == 'grab'"}],
 "mark": {"type": "line", "strokeWidth": 1.5, "interpolate": "monotone"},
 "encoding": {
  "x": {"field": "x", "type": "quantitative", "scale": {"domain": [-85, 1785], "nice": false, "zero": false}, "axis": {"values": [0,250,500,750,1000,1250,1500,1750], "title": null}},
  "y": {"field": "y", "type": "quantitative", "scale": {"domain": [-3.36, 6.71], "nice": false, "zero": false}, "axis": {"values": [-2,0,2,4,6], "title": null, "labels": false}},
  "color": {"field": "s", "type": "nominal", "scale": {"domain": ["C0","C1","C2","C3","C4","C5","C6","C7","C8"], "range": ["#1f77b4","#ff7f0e","#2ca02c","#d62728","#9467bd","#8c564b","#e377c2","#7f7f7f","#bcbd22"]}, "legend": null}
 }
},
{
 "width": 272, "height": 222,
 "title": "Overlayed Touch Gestures",
 "data": {"name": "d"},
 "transform": [{"filter": "datum.p == 'touch'"}],
 "mark": {"type": "line", "strokeWidth": 1.5, "interpolate": "monotone"},
 "encoding": {
  "x": {"field": "x", "type": "quantitative", "scale": {"domain": [-85, 1785], "nice": false, "zero": false}, "axis": {"values": [0,250,500,750,1000,1250,1500,1750], "title": "Data Samples"}},
  "y": {"field": "y", "type": "quantitative", "scale": {"domain": [-3.36, 6.71], "nice": false, "zero": false}, "axis": {"values": [-2,0,2,4,6], "title": "Force [N]"}},
  "color": {"field": "s", "type": "nominal", "scale": {"domain": ["C0","C1","C2","C3","C4","C5","C6","C7","C8"], "range": ["#1f77b4","#ff7f0e","#2ca02c","#d62728","#9467bd","#8c564b","#e377c2","#7f7f7f","#bcbd22"]}, "legend": null}
 }
},
{
 "width": 272, "height": 222,
 "title": "Overlayed Slip Gestures",
 "data": {"name": "d"},
 "transform": [{"filter": "datum.p == 'slip'"}],
 "mark": {"type": "line", "strokeWidth": 1.5, "interpolate": "monotone"},
 "encoding": {
  "x": {"field": "x", "type": "quantitative", "scale": {"domain": [-55, 1155], "nice": false, "zero": false}, "axis": {"values": [0,200,400,600,800,1000], "title": null}},
  "y": {"field": "y", "type": "quantitative", "scale": {"domain": [-3.36, 6.71], "nice": false, "zero": false}, "axis": {"values": [-2,0,2,4,6], "title": null, "labels": false}},
  "color": {"field": "s", "type": "nominal", "scale": {"domain": ["C0","C1","C2","C3","C4","C5","C6","C7","C8"], "range": ["#1f77b4","#ff7f0e","#2ca02c","#d62728","#9467bd","#8c564b","#e377c2","#7f7f7f","#bcbd22"]}, "legend": null}
 }
}
]
}
